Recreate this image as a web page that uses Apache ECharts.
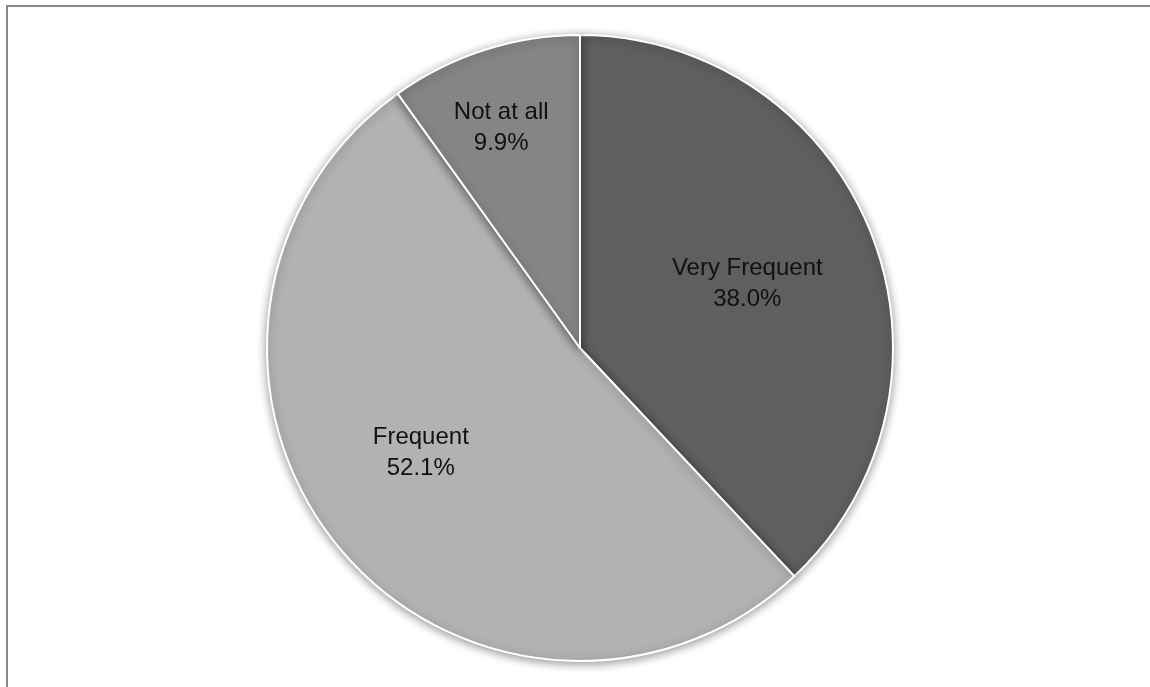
<!DOCTYPE html>
<html>
<head>
<meta charset="utf-8">
<script src="https://cdn.jsdelivr.net/npm/echarts@6/dist/echarts.min.js"></script>
<style>
  html, body { margin: 0; padding: 0; background: #fff; }
  #chart { position: absolute; left: 0; top: 0; width: 1150px; height: 687px; }
  .frame {
    position: absolute; left: 6px; top: 5px; right: 0; bottom: 0;
    border-top: 2px solid #878787; border-left: 2px solid #878787;
    pointer-events: none;
  }
</style>
</head>
<body>
<div id="chart"></div>
<div class="frame"></div>
<script>
// 数据
const categories = ['Very Frequent', 'Frequent', 'Not at all']
const shares = [38.0, 52.1, 9.9]
const sliceColors = ['#5f5f5f', '#b2b2b2', '#858585']

// label nudges from the default inside position (Excel best-fit placement)
const labelShift = [[19, -5], [-36, 4], [-30, -68]]

const chart = echarts.init(document.getElementById('chart'))

const option = {
  backgroundColor: '#fff',
  animation: false,
  series: [
    {
      type: 'pie',
      center: [580, 348],
      radius: [0, 313],
      startAngle: 90,
      clockwise: true,
      itemStyle: {
        borderColor: '#fff',
        borderWidth: 2,
        shadowBlur: 10,
        shadowOffsetY: 2,
        shadowColor: 'rgba(0, 0, 0, 0.4)',
      },
      label: {
        show: true,
        position: 'inside',
        color: '#111',
        fontFamily: 'Liberation Sans',
        fontSize: 24,
        lineHeight: 31,
        formatter: p => `${p.name}\n${p.value.toFixed(1)}%`,
      },
      labelLayout: params => ({
        dx: labelShift[params.dataIndex][0],
        dy: labelShift[params.dataIndex][1],
      }),
      emphasis: { disabled: true },
      data: categories.map((name, i) => ({
        name,
        value: shares[i],
        itemStyle: { color: sliceColors[i] },
      })),
    },
  ],
}

chart.setOption(option)
</script>
</body>
</html>
